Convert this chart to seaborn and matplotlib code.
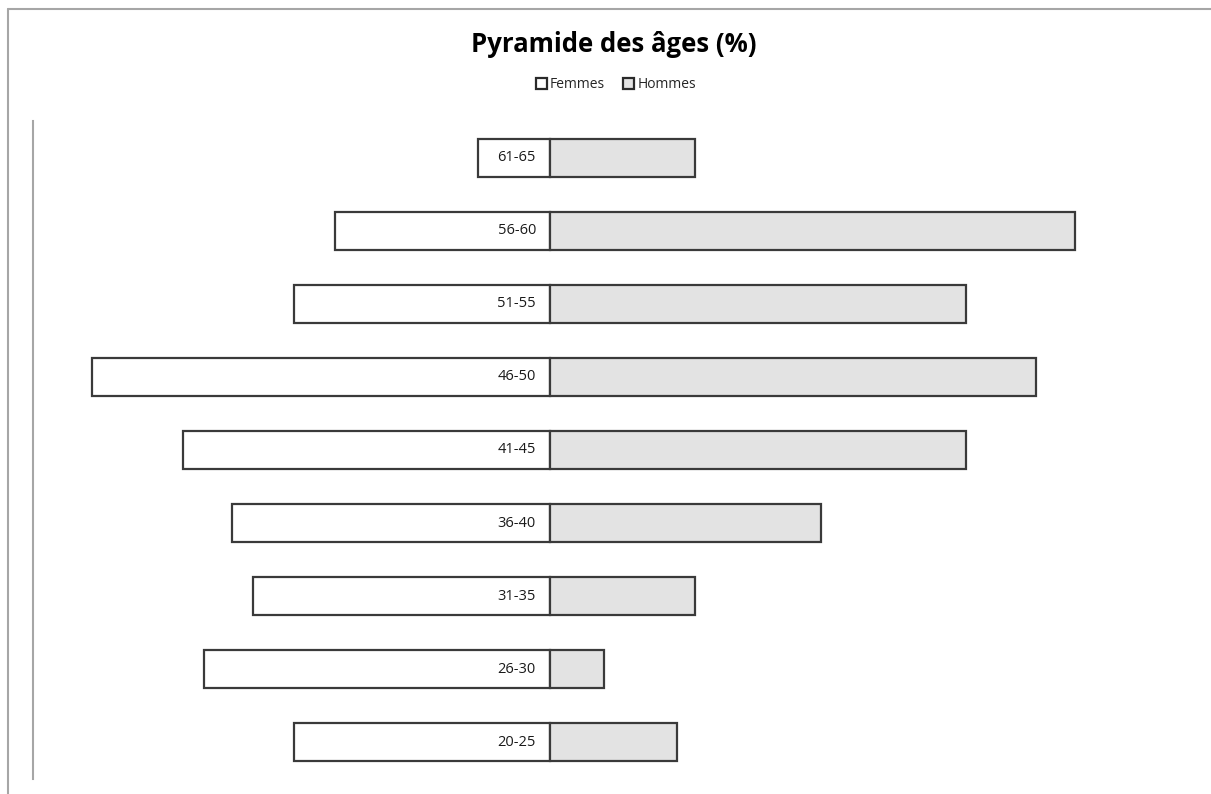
import matplotlib
matplotlib.use("Agg")
import matplotlib.pyplot as plt
from matplotlib.lines import Line2D
import seaborn as sns
import pandas as pd

# data (percent of each sex)
tranches = ["61-65", "56-60", "51-55", "46-50", "41-45", "36-40", "31-35", "26-30", "20-25"]
femmes = [2.8, 8.3, 9.9, 17.7, 14.2, 12.3, 11.5, 13.4, 9.9]
hommes = [5.6, 20.3, 16.1, 18.8, 16.1, 10.5, 5.6, 2.1, 4.9]

df = pd.concat([
    pd.DataFrame({"age": tranches, "pct": [-v for v in femmes], "sexe": "Femmes"}),
    pd.DataFrame({"age": tranches, "pct": hommes, "sexe": "Hommes"}),
])

sns.set_theme(style="white")
plt.rcParams["font.family"] = ["Open Sans", "DejaVu Sans"]

fig = plt.figure(figsize=(12.11, 7.94), dpi=100)
ax = fig.add_axes([33 / 1211, 15 / 794, 1163 / 1211, 658 / 794])

sns.barplot(data=df, x="pct", y="age", hue="sexe", order=tranches,
            palette={"Femmes": "white", "Hommes": "#e3e3e3"},
            dodge=False, width=0.52, edgecolor="#3a3a3a", linewidth=1.6,
            orient="h", ax=ax)

ax.set_xlim(-20, 25)
ax.set_ylim(len(tranches) - 0.5, -0.5)
ax.set_xlabel("")
ax.set_ylabel("")
ax.set_xticks([])
ax.set_yticks([])
for s in ["top", "right", "bottom"]:
    ax.spines[s].set_visible(False)
ax.spines["left"].set_color("#a6a6a6")
ax.spines["left"].set_linewidth(1.5)

# age labels inside the female bars
for i, t in enumerate(tranches):
    ax.annotate(t, xy=(0, i), xytext=(-10, 0), textcoords="offset points",
                ha="right", va="center", fontsize=10.5, color="#1a1a1a")

ax.get_legend().remove()
handles = [plt.Rectangle((0, 0), 1, 1, facecolor="white", edgecolor="#2a2a2a", linewidth=1.6),
           plt.Rectangle((0, 0), 1, 1, facecolor="#e3e3e3", edgecolor="#2a2a2a", linewidth=1.6)]
fig.legend(handles, ["Femmes", "Hommes"], loc="center", bbox_to_anchor=(616 / 1211, 1 - 85 / 794),
           ncol=2, frameon=False, fontsize=10, handlelength=0.8, handleheight=0.8,
           handletextpad=0.2, columnspacing=1.3)

fig.text(614 / 1211, 1 - 44 / 794, "Pyramide des âges (%)", ha="center", va="center",
         fontsize=18.5, fontweight="bold", color="black")

# outer frame (top and left edges visible)
fig.add_artist(Line2D([8 / 1211, 1], [1 - 9 / 794, 1 - 9 / 794], color="#a6a6a6", lw=1.5))
fig.add_artist(Line2D([8 / 1211, 8 / 1211], [0, 1 - 9 / 794], color="#a6a6a6", lw=1.5))

fig.savefig("out.png", dpi=100, facecolor="white")
